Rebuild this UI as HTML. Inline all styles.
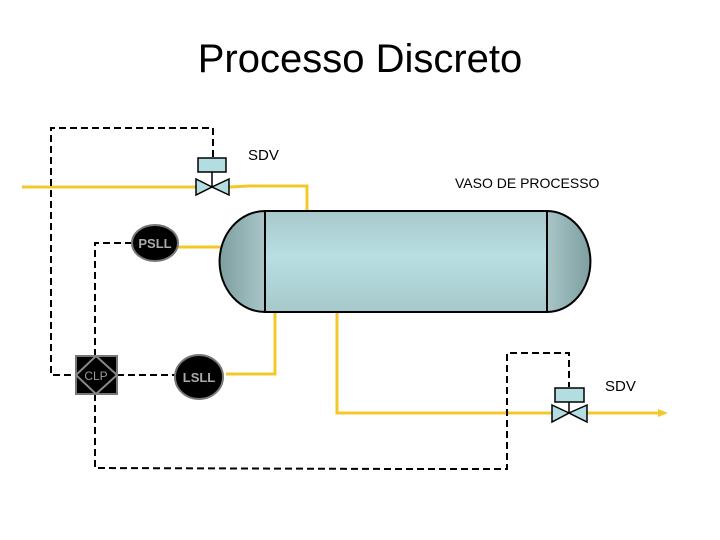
<!DOCTYPE html>
<html><head><meta charset="utf-8"><style>
html,body{margin:0;padding:0;background:#fff;width:720px;height:540px;overflow:hidden}
text{font-family:"Liberation Sans",Arial,sans-serif}
</style></head><body>
<svg width="720" height="540" viewBox="0 0 720 540" xmlns="http://www.w3.org/2000/svg">
<defs>
<linearGradient id="body" x1="0" y1="0" x2="0" y2="1">
<stop offset="0" stop-color="#a6c8cb"/><stop offset="0.45" stop-color="#b8dfe2"/><stop offset="1" stop-color="#a6c8cb"/>
</linearGradient>
<linearGradient id="capL" x1="0" y1="0" x2="1" y2="0">
<stop offset="0" stop-color="#7e9ea0"/><stop offset="1" stop-color="#a8c6c8"/>
</linearGradient>
<linearGradient id="capR" x1="1" y1="0" x2="0" y2="0">
<stop offset="0" stop-color="#7e9ea0"/><stop offset="1" stop-color="#a8c6c8"/>
</linearGradient>
</defs>
<text x="360" y="72" font-size="40" text-anchor="middle" fill="#000">Processo Discreto</text>

<!-- yellow lines -->
<g stroke="#f2c82a" stroke-width="3" fill="none">
<polyline points="22,187 196,187"/>
<polyline points="229,187 250,186 307,186 307,211"/>
<polyline points="178,247 221,247"/>
<polyline points="226,374 275,374 275,312"/>
<polyline points="337,312 337,413 555,413"/>
<polyline points="587,413 660,413"/>
</g>
<polygon points="658,409 668,413 658,417" fill="#f2c82a"/>

<!-- dashed -->
<g stroke="#000" stroke-width="2" fill="none" stroke-dasharray="7,4">
<polyline points="213,157 213,128 51,128 51,375 78,375"/>
<polyline points="132,243 95,243 95,356"/>
<polyline points="117,375 176,375"/>
<polyline points="95,394 95,468 400,469 500,469 507,469 507,353 569,353 569,387"/>
</g>

<!-- vessel -->
<path d="M265,211 A45,50 0 0 0 265,312 Z" fill="url(#capL)" stroke="#000" stroke-width="2"/>
<path d="M547,211 A43,50 0 0 1 547,312 Z" fill="url(#capR)" stroke="#000" stroke-width="2"/>
<rect x="265" y="211" width="282" height="101" fill="url(#body)" stroke="#000" stroke-width="2"/>

<!-- top valve -->
<rect x="198" y="158" width="28" height="14" fill="#b3dde0" stroke="#000" stroke-width="1.5"/>
<line x1="212" y1="172" x2="212" y2="187" stroke="#000" stroke-width="1.5"/>
<polygon points="196,179 212,187 196,195" fill="#b3dde0" stroke="#000" stroke-width="1.5"/>
<polygon points="229,179 212,187 229,195" fill="#b3dde0" stroke="#000" stroke-width="1.5"/>
<text x="248" y="160" font-size="15">SDV</text>

<!-- bottom valve -->
<rect x="555" y="388" width="29" height="14" fill="#b3dde0" stroke="#000" stroke-width="1.5"/>
<line x1="569" y1="402" x2="569" y2="413" stroke="#000" stroke-width="1.5"/>
<polygon points="552,405 569,413 552,422" fill="#b3dde0" stroke="#000" stroke-width="1.5"/>
<polygon points="587,405 569,413 587,422" fill="#b3dde0" stroke="#000" stroke-width="1.5"/>
<text x="605" y="391" font-size="15">SDV</text>

<text x="455" y="188" font-size="14">VASO DE PROCESSO</text>

<!-- PSLL -->
<ellipse cx="155" cy="243" rx="23" ry="18" fill="#000" stroke="#777" stroke-width="2"/>
<text x="155" y="248" font-size="13" fill="#aaa" text-anchor="middle" font-weight="bold">PSLL</text>
<!-- LSLL -->
<ellipse cx="199" cy="377" rx="24" ry="22" fill="#000" stroke="#777" stroke-width="2"/>
<text x="199" y="382" font-size="13" fill="#aaa" text-anchor="middle" font-weight="bold">LSLL</text>
<!-- CLP -->
<rect x="76" y="356" width="41" height="38" fill="#000" stroke="#777" stroke-width="2"/>
<polygon points="96,356 117,375 96,394 76,375" fill="none" stroke="#888" stroke-width="2"/>
<text x="96" y="380" font-size="12" fill="#999" text-anchor="middle">CLP</text>
</svg>
</body></html>
